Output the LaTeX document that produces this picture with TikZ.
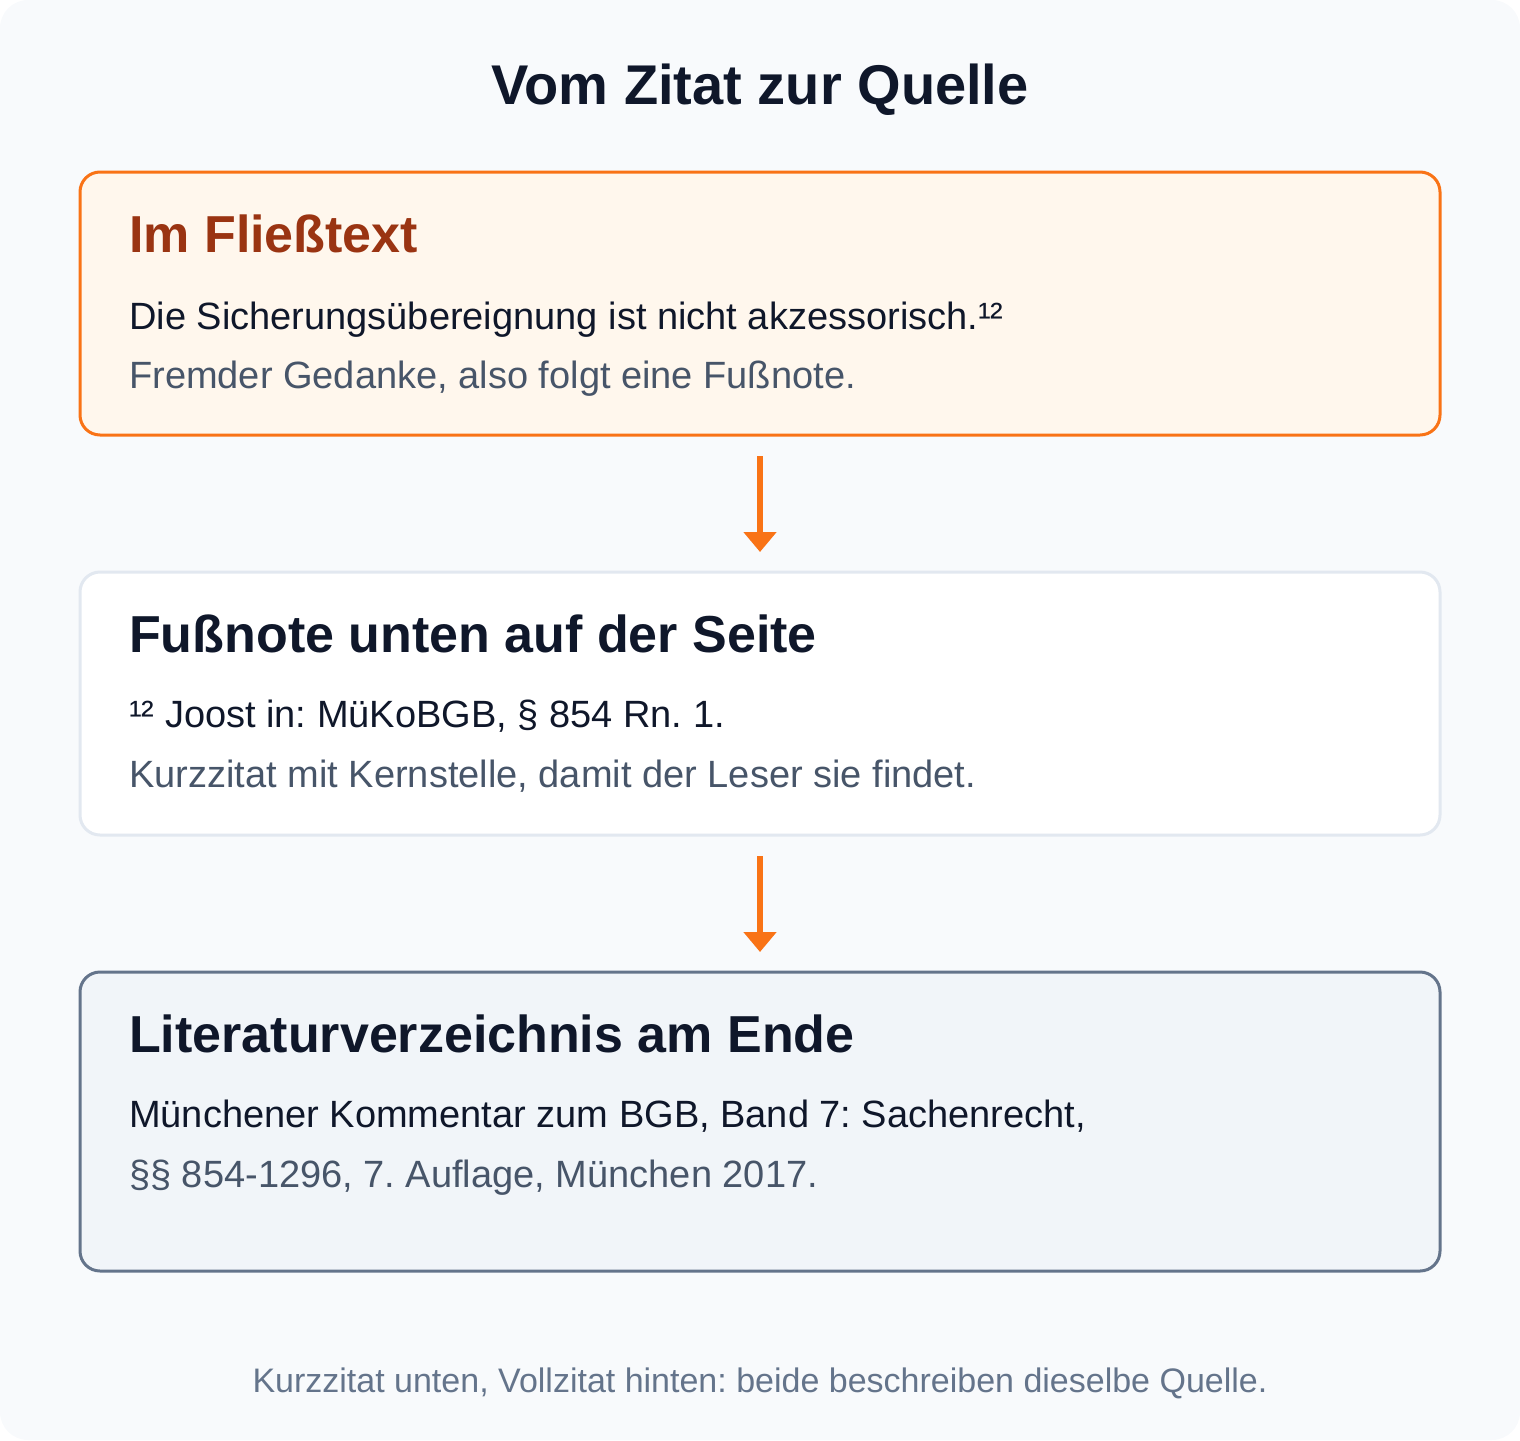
\documentclass[tikz,border=0pt]{standalone}
\usepackage{fontspec}
\setmainfont{Liberation Sans}
\usetikzlibrary{arrows.meta}
\frenchspacing
\definecolor{bgc}{HTML}{F8FAFC}
\definecolor{ink}{HTML}{0F172A}
\definecolor{muted}{HTML}{475569}
\definecolor{foot}{HTML}{64748B}
\definecolor{orangeline}{HTML}{F97316}
\definecolor{orangefill}{HTML}{FFF7ED}
\definecolor{orangehead}{HTML}{9A3412}
\definecolor{grayline}{HTML}{E2E8F0}
\definecolor{slateline}{HTML}{64748B}
\definecolor{slatefill}{HTML}{F1F5F9}
\tikzset{
  panel/.style={rounded corners=20pt, minimum width=1360pt, anchor=north west, inner sep=0pt, outer sep=0pt},
  panelA/.style={panel, draw=orangeline, fill=orangefill, line width=3pt},
  panelB/.style={panel, draw=grayline, fill=white, line width=3pt},
  panelC/.style={panel, draw=slateline, fill=slatefill, line width=3pt},
  title/.style={font=\fontsize{56}{64}\selectfont\bfseries\frenchspacing, text=ink, anchor=base, inner sep=0pt},
  head/.style={font=\fontsize{52}{60}\selectfont\bfseries\frenchspacing, text=ink, anchor=base west, inner sep=0pt},
  body/.style={font=\fontsize{38}{44}\selectfont\frenchspacing, text=ink, anchor=base west, inner sep=0pt},
  note/.style={font=\fontsize{38}{44}\selectfont\frenchspacing, text=muted, anchor=base west, inner sep=0pt},
  footer/.style={font=\fontsize{34}{40}\selectfont\frenchspacing, text=foot, anchor=base, inner sep=0pt},
  flow/.style={draw=orangeline, line width=6pt, -{Triangle[width=32pt,length=20pt]}, shorten <=21pt, shorten >=20pt}
}
\begin{document}
\begin{tikzpicture}[x=1pt,y=-1pt]
\useasboundingbox (0,0) rectangle (1520,1440);
\fill[bgc, rounded corners=28pt] (0,0) rectangle (1520,1440);

\node[title] (t) at (760,104) {Vom Zitat zur Quelle};

\node[panelA, minimum height=263pt] (b1) at (80,172) {};
\node[head, text=orangehead] (h1) at (129,252) {Im Fließtext};
\node[body] (l1a) at (129,329) {Die Sicherungsübereignung ist nicht akzessorisch.¹²};
\node[note] (l1b) at (129,388) {Fremder Gedanke, also folgt eine Fußnote.};

\node[panelB, minimum height=263pt] (b2) at (80,572) {};
\node[head] (h2) at (129,652) {Fußnote unten auf der Seite};
\node[body] (l2a) at (129,727) {¹² Joost in: MüKoBGB, § 854 Rn. 1.};
\node[note] (l2b) at (129,787) {Kurzzitat mit Kernstelle, damit der Leser sie findet.};

\node[panelC, minimum height=299pt] (b3) at (80,972) {};
\node[head] (h3) at (129,1052) {Literaturverzeichnis am Ende};
\node[body] (l3a) at (129,1127) {Münchener Kommentar zum BGB, Band 7: Sachenrecht,};
\node[note] (l3b) at (129,1187) {§§ 854-1296, 7. Auflage, München 2017.};

\draw[flow] (b1.south) -- (b2.north);
\draw[flow] (b2.south) -- (b3.north);

\node[footer] (f) at (760,1392) {Kurzzitat unten, Vollzitat hinten: beide beschreiben dieselbe Quelle.};
\end{tikzpicture}
\end{document}
